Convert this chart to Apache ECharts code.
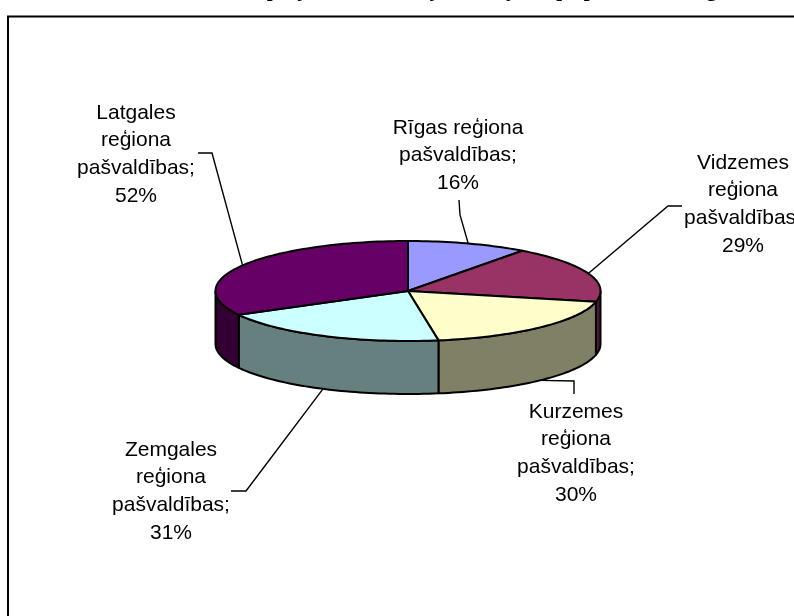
<!DOCTYPE html>
<html>
<head>
<meta charset="utf-8">
<style>html,body{margin:0;padding:0;background:#fff;overflow:hidden}#c{width:794px;height:616px}</style>
<script src="https://cdn.jsdelivr.net/npm/echarts@6/dist/echarts.min.js"></script>
</head>
<body>
<div id="c"></div>
<script>
var categories = ['Rīgas reģiona\npašvaldības;', 'Vidzemes\nreģiona\npašvaldības;', 'Kurzemes\nreģiona\npašvaldības;', 'Zemgales\nreģiona\npašvaldības;', 'Latgales\nreģiona\npašvaldības;'];
var values = [16, 29, 30, 31, 52];
var topColors = ['#9999FF', '#993366', '#FFFFCC', '#CCFFFF', '#660066'];
var sideColors = ['#4D4D80', '#4D1A33', '#808066', '#668080', '#330033'];
var titleText = 'Pašvaldību projektu iesniedzēju sadalījums pa plānošanas reģioniem';

// layout of the pie drawing
var cx = 408, cy = 291, rx = 192.5, ry = 50, depth = 53;
// label centre x, first-line centre y; leader bend + end points
var labelPos = [[458, 128], [743, 163], [576, 412], [171, 450], [136, 113]];
var leaderTail = [
  [[460, 215], [459, 200]],
  [[668, 206], [682, 206]],
  [[574, 381], [574, 394]],
  [[246, 491], [231, 491]],
  [[212, 153], [198, 153]]
];
var lineHeight = 27.6;

var total = values.reduce(function (a, b) { return a + b; }, 0);
function startAngle(i) {
  var s = 0;
  for (var k = 0; k < i; k++) s += values[k];
  return s / total * 360;
}
function pt(deg, dz) {
  var t = deg * Math.PI / 180;
  return [cx + rx * Math.sin(t), cy - ry * Math.cos(t) + (dz || 0)];
}
function arc(a0, a1, dz) {
  var pts = [], n = Math.max(2, Math.ceil(Math.abs(a1 - a0) / 1.5));
  for (var i = 0; i <= n; i++) pts.push(pt(a0 + (a1 - a0) * i / n, dz));
  return pts;
}
var outline = { stroke: '#000', lineWidth: 2, lineJoin: 'round' };
function style(fill) { return Object.assign({ fill: fill }, outline); }

var option = {
  animation: false,
  graphic: [
    { type: 'rect', silent: true, z: 0, shape: { x: 8, y: 16.5, width: 1000, height: 800 }, style: { fill: '#fff', stroke: '#000', lineWidth: 2 } },
    { type: 'text', silent: true, z: 1, x: 470, y: 1, style: { text: titleText, align: 'center', verticalAlign: 'bottom', font: 'bold 21px "Liberation Serif"', fill: '#000' } }
  ],
  series: [
    { // visible front wall
      type: 'custom', coordinateSystem: 'none', silent: true, data: values,
      renderItem: function (params, api) {
        var i = params.dataIndex;
        var a0 = Math.max(startAngle(i), 90);
        var a1 = Math.min(startAngle(i) + api.value(0) / total * 360, 270);
        if (a1 <= a0) return { type: 'group', children: [] };
        var pts = arc(a0, a1, 0).concat(arc(a1, a0, depth));
        return { type: 'polygon', shape: { points: pts }, style: style(sideColors[i]) };
      }
    },
    { // top face
      type: 'custom', coordinateSystem: 'none', silent: true, data: values,
      renderItem: function (params, api) {
        var i = params.dataIndex;
        var a0 = startAngle(i), a1 = a0 + api.value(0) / total * 360;
        var pts = [[cx, cy]].concat(arc(a0, a1, 0));
        return { type: 'polygon', shape: { points: pts }, style: style(topColors[i]) };
      }
    },
    { // leader lines, anchored on the middle of each slice
      type: 'custom', coordinateSystem: 'none', silent: true, data: values,
      renderItem: function (params, api) {
        var i = params.dataIndex;
        var mid = startAngle(i) + api.value(0) / total * 180;
        var front = mid > 90 && mid < 270;
        var pts = [pt(mid, front ? depth : 0)].concat(leaderTail[i]);
        return { type: 'polyline', shape: { points: pts }, style: { fill: null, stroke: '#000', lineWidth: 1.4 } };
      }
    },
    { // labels
      type: 'custom', coordinateSystem: 'none', silent: true, data: values,
      renderItem: function (params, api) {
        var i = params.dataIndex;
        var lines = categories[i].split('\n').concat(api.value(0) + '%');
        return {
          type: 'group',
          children: lines.map(function (ln, k) {
            return {
              type: 'text', x: labelPos[i][0], y: labelPos[i][1] + k * lineHeight,
              style: { text: ln, align: 'center', verticalAlign: 'middle', font: '21px "Liberation Sans"', fill: '#000' }
            };
          })
        };
      }
    }
  ]
};
echarts.init(document.getElementById('c'), null, { renderer: 'canvas' }).setOption(option);
</script>
</body>
</html>
